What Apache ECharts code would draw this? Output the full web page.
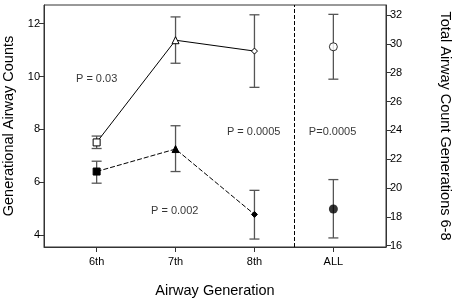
<!DOCTYPE html>
<html>
<head>
<meta charset="utf-8">
<script src="https://cdn.jsdelivr.net/npm/echarts@6/dist/echarts.min.js"></script>
<style>
  html, body { margin: 0; padding: 0; background: #fff; }
  #chart { width: 453px; height: 300px; }
</style>
</head>
<body>
<div id="chart"></div>
<script>
// 气道分代数据
var categories = ['6th', '7th', '8th', 'ALL'];
var leftTicks = [4, 6, 8, 10, 12];
var rightTicks = [16, 18, 20, 22, 24, 26, 28, 30, 32];

// 空心符号（实线）
var openMean = [7.51, 11.37, 10.96];
var openLow = [7.28, 10.50, 9.59];
var openHigh = [7.75, 12.25, 12.33];
var openSymbols = ['rect', 'triangle', 'diamond'];

// 实心符号（虚线）
var filledMean = [6.41, 7.26, 4.79];
var filledLow = [5.97, 6.41, 3.86];
var filledHigh = [6.80, 8.14, 5.70];
var filledSymbols = ['rect', 'triangle', 'diamond'];

// ALL（右轴）
var totalOpen = [29.8, 27.55, 32.05];   // mean, low, high
var totalFilled = [18.54, 16.53, 20.58];

// P值标注
var pLabels = ['P = 0.03', 'P = 0.002', 'P = 0.0005', 'P=0.0005'];
var pX = [0, 0.99, 1.99, 2.99];
var pY = [9.91, 4.91, 7.89, 7.89];

var FONT = 'Liberation Sans, Arial, sans-serif';
var SYM_SIZE = { rect: 7, triangle: 7, diamond: 6 };

var chart = echarts.init(document.getElementById('chart'));

function pts(means, symbols) {
    return means.map(function (v, i) {
        return { value: [i, v], symbol: symbols[i], symbolSize: SYM_SIZE[symbols[i]] };
    });
}

function bars(lows, highs) {
    return lows.map(function (l, i) {
        return [i, l, highs[i]];
    });
}

function renderErr(params, api) {
    var x = api.value(0);
    var lo = api.coord([x, api.value(1)]);
    var hi = api.coord([x, api.value(2)]);
    var w = 5;
    var style = { stroke: '#555', lineWidth: 1.3 };
    return {
        type: 'group',
        children: [
            { type: 'line', shape: { x1: lo[0], y1: lo[1], x2: hi[0], y2: hi[1] }, style: style },
            { type: 'line', shape: { x1: lo[0] - w, y1: lo[1], x2: lo[0] + w, y2: lo[1] }, style: style },
            { type: 'line', shape: { x1: hi[0] - w, y1: hi[1], x2: hi[0] + w, y2: hi[1] }, style: style }
        ]
    };
}

var option = {
    animation: false,
    backgroundColor: '#fff',
    grid: {
        left: 44, right: 67, top: 5, bottom: 53,
        outerBoundsMode: 'none',
        show: true, borderColor: '#333', borderWidth: 1, backgroundColor: 'transparent'
    },
    xAxis: {
        type: 'value',
        min: -0.667, max: 3.667,
        name: 'Airway Generation',
        nameLocation: 'middle',
        nameGap: 36,
        nameTextStyle: { fontFamily: FONT, fontSize: 14.5, color: '#000' },
        splitLine: { show: false },
        axisLine: { onZero: false, lineStyle: { color: '#333', width: 1 } },
        axisTick: { show: true, length: 5, customValues: [0, 1, 2, 3], lineStyle: { color: '#333' } },
        axisLabel: {
            customValues: [0, 1, 2, 3],
            margin: 9,
            fontFamily: FONT, fontSize: 11, color: '#000',
            formatter: function (v) { return categories[Math.round(v)]; }
        }
    },
    yAxis: [
        {
            type: 'value',
            min: 3.56, max: 12.7,
            name: 'Generational Airway Counts',
            nameLocation: 'middle',
            nameGap: 26,
            nameTextStyle: { fontFamily: FONT, fontSize: 14.5, color: '#000' },
            splitLine: { show: false },
            axisLine: { show: true, onZero: false, lineStyle: { color: '#333' } },
            axisTick: { show: true, length: 5, customValues: leftTicks, lineStyle: { color: '#333' } },
            axisLabel: { customValues: leftTicks, margin: 4, fontFamily: FONT, fontSize: 11, color: '#000' }
        },
        {
            type: 'value',
            position: 'right',
            min: 15.9, max: 32.7,
            name: 'Total Airway Count Generations 6-8',
            nameLocation: 'middle',
            nameRotate: -90,
            nameGap: 51,
            nameTextStyle: { fontFamily: FONT, fontSize: 14.5, color: '#000' },
            splitLine: { show: false },
            axisLine: { show: true, onZero: false, lineStyle: { color: '#333' } },
            axisTick: { show: true, length: 5, customValues: rightTicks, lineStyle: { color: '#333' } },
            axisLabel: { customValues: rightTicks, margin: 4, fontFamily: FONT, fontSize: 11, color: '#000' }
        }
    ],
    series: [
        {
            type: 'custom',
            renderItem: renderErr,
            data: bars(openLow, openHigh),
            encode: { x: 0, y: [1, 2] },
            z: 1
        },
        {
            type: 'custom',
            renderItem: renderErr,
            data: bars(filledLow, filledHigh),
            encode: { x: 0, y: [1, 2] },
            z: 1
        },
        {
            type: 'custom',
            yAxisIndex: 1,
            renderItem: renderErr,
            data: [[3, totalOpen[1], totalOpen[2]], [3, totalFilled[1], totalFilled[2]]],
            encode: { x: 0, y: [1, 2] },
            z: 1
        },
        {
            type: 'line',
            data: pts(openMean, openSymbols),
            lineStyle: { color: '#000', width: 1 },
            itemStyle: { color: '#fff', borderColor: '#000', borderWidth: 1 },
            z: 3,
            markLine: {
                silent: true,
                symbol: 'none',
                label: { show: false },
                lineStyle: { color: '#000', type: [4, 2], width: 1 },
                data: [{ xAxis: 2.5 }]
            }
        },
        {
            type: 'line',
            data: pts(filledMean, filledSymbols),
            lineStyle: { color: '#000', width: 1, type: [5, 2] },
            itemStyle: { color: '#000', borderColor: '#000' },
            z: 3
        },
        {
            type: 'scatter',
            yAxisIndex: 1,
            data: [[3, totalOpen[0]]],
            symbol: 'circle',
            symbolSize: 8,
            itemStyle: { color: '#fff', borderColor: '#000', borderWidth: 1 },
            z: 3
        },
        {
            type: 'scatter',
            yAxisIndex: 1,
            data: [[3, totalFilled[0]]],
            symbol: 'circle',
            symbolSize: 9,
            itemStyle: { color: '#000' },
            z: 3
        },
        {
            type: 'scatter',
            silent: true,
            symbolSize: 0,
            data: pLabels.map(function (t, i) { return { value: [pX[i], pY[i]], name: t }; }),
            label: {
                show: true,
                position: 'inside',
                formatter: function (p) { return p.name; },
                fontFamily: FONT, fontSize: 11, color: '#000'
            },
            z: 4
        }
    ]
};

chart.setOption(option);
</script>
</body>
</html>
